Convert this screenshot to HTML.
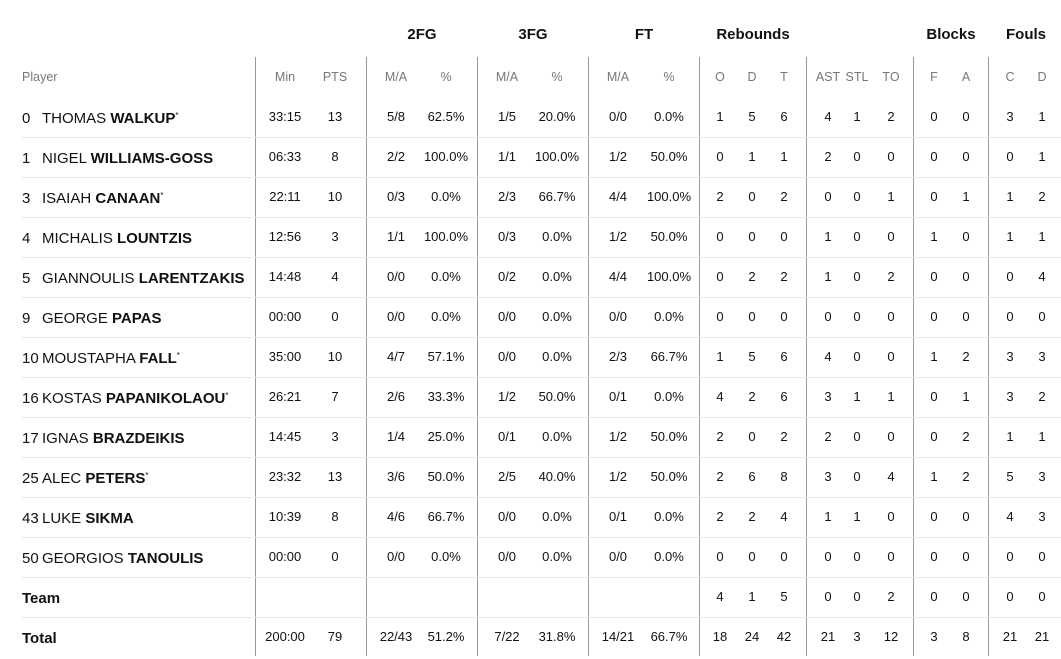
<!DOCTYPE html>
<html><head><meta charset="utf-8"><style>
body{margin:0;width:1061px;height:656px;background:#fff;position:relative;overflow:hidden;font-family:"Liberation Sans",sans-serif;color:#111}
.r{position:absolute;left:0;width:1061px;height:40px;line-height:40px;font-size:13px}
.r span{position:absolute;top:0;height:40px;line-height:40px;transform:translateX(-50%);white-space:nowrap}
.r .n{transform:none;left:22px;font-size:15px;top:2px}
.r .p{transform:none;left:42px;font-size:15px;top:2px}
.r .p i{font-style:normal;font-size:8px;position:relative;top:-5px}
.sep{position:absolute;left:22px;width:1039px;height:1px;background:#e9e9e9}
.v{position:absolute;top:57px;height:599px;width:1px;background:#999}
.g{position:absolute;top:26px;font-size:15px;font-weight:bold;transform:translateX(-50%)}
.h{color:#777;font-size:12.5px}
.h .n{top:0!important}
.a{left:285px}.b{left:335px}.c{left:396px}.d{left:446px}.e{left:507px}.f{left:557px}.g1{left:618px}.h1{left:669px}
.i{left:720px}.j{left:752px}.k{left:784px}.l{left:828px}.m{left:857px}.o{left:891px}.q{left:934px}.s{left:966px}.t{left:1010px}.u{left:1042px}
</style></head><body>
<div class="g" style="left:422px">2FG</div>
<div class="g" style="left:533px">3FG</div>
<div class="g" style="left:644px">FT</div>
<div class="g" style="left:753px">Rebounds</div>
<div class="g" style="left:951px">Blocks</div>
<div class="g" style="left:1026px">Fouls</div>
<div class="v" style="left:255px"></div><div class="v" style="left:366px"></div><div class="v" style="left:477px"></div><div class="v" style="left:588px"></div><div class="v" style="left:699px"></div><div class="v" style="left:806px"></div><div class="v" style="left:913px"></div><div class="v" style="left:988px"></div>
<div class="r h" style="top:57px"><span class="n" style="font-size:12.5px">Player</span><span class="a">Min</span><span class="b">PTS</span><span class="c">M/A</span><span class="d">%</span><span class="e">M/A</span><span class="f">%</span><span class="g1">M/A</span><span class="h1">%</span><span class="i">O</span><span class="j">D</span><span class="k">T</span><span class="l">AST</span><span class="m">STL</span><span class="o">TO</span><span class="q">F</span><span class="s">A</span><span class="t">C</span><span class="u">D</span></div>

<div class="r" style="top:97px"><span class="n">0</span><span class="p">THOMAS <b>WALKUP</b><i>*</i></span><span class="a">33:15</span><span class="b">13</span><span class="c">5/8</span><span class="d">62.5%</span><span class="e">1/5</span><span class="f">20.0%</span><span class="g1">0/0</span><span class="h1">0.0%</span><span class="i">1</span><span class="j">5</span><span class="k">6</span><span class="l">4</span><span class="m">1</span><span class="o">2</span><span class="q">0</span><span class="s">0</span><span class="t">3</span><span class="u">1</span></div>
<div class="sep" style="top:137px"></div>
<div class="r" style="top:137px"><span class="n">1</span><span class="p">NIGEL <b>WILLIAMS-GOSS</b></span><span class="a">06:33</span><span class="b">8</span><span class="c">2/2</span><span class="d">100.0%</span><span class="e">1/1</span><span class="f">100.0%</span><span class="g1">1/2</span><span class="h1">50.0%</span><span class="i">0</span><span class="j">1</span><span class="k">1</span><span class="l">2</span><span class="m">0</span><span class="o">0</span><span class="q">0</span><span class="s">0</span><span class="t">0</span><span class="u">1</span></div>
<div class="sep" style="top:177px"></div>
<div class="r" style="top:177px"><span class="n">3</span><span class="p">ISAIAH <b>CANAAN</b><i>*</i></span><span class="a">22:11</span><span class="b">10</span><span class="c">0/3</span><span class="d">0.0%</span><span class="e">2/3</span><span class="f">66.7%</span><span class="g1">4/4</span><span class="h1">100.0%</span><span class="i">2</span><span class="j">0</span><span class="k">2</span><span class="l">0</span><span class="m">0</span><span class="o">1</span><span class="q">0</span><span class="s">1</span><span class="t">1</span><span class="u">2</span></div>
<div class="sep" style="top:217px"></div>
<div class="r" style="top:217px"><span class="n">4</span><span class="p">MICHALIS <b>LOUNTZIS</b></span><span class="a">12:56</span><span class="b">3</span><span class="c">1/1</span><span class="d">100.0%</span><span class="e">0/3</span><span class="f">0.0%</span><span class="g1">1/2</span><span class="h1">50.0%</span><span class="i">0</span><span class="j">0</span><span class="k">0</span><span class="l">1</span><span class="m">0</span><span class="o">0</span><span class="q">1</span><span class="s">0</span><span class="t">1</span><span class="u">1</span></div>
<div class="sep" style="top:257px"></div>
<div class="r" style="top:257px"><span class="n">5</span><span class="p">GIANNOULIS <b>LARENTZAKIS</b></span><span class="a">14:48</span><span class="b">4</span><span class="c">0/0</span><span class="d">0.0%</span><span class="e">0/2</span><span class="f">0.0%</span><span class="g1">4/4</span><span class="h1">100.0%</span><span class="i">0</span><span class="j">2</span><span class="k">2</span><span class="l">1</span><span class="m">0</span><span class="o">2</span><span class="q">0</span><span class="s">0</span><span class="t">0</span><span class="u">4</span></div>
<div class="sep" style="top:297px"></div>
<div class="r" style="top:297px"><span class="n">9</span><span class="p">GEORGE <b>PAPAS</b></span><span class="a">00:00</span><span class="b">0</span><span class="c">0/0</span><span class="d">0.0%</span><span class="e">0/0</span><span class="f">0.0%</span><span class="g1">0/0</span><span class="h1">0.0%</span><span class="i">0</span><span class="j">0</span><span class="k">0</span><span class="l">0</span><span class="m">0</span><span class="o">0</span><span class="q">0</span><span class="s">0</span><span class="t">0</span><span class="u">0</span></div>
<div class="sep" style="top:337px"></div>
<div class="r" style="top:337px"><span class="n">10</span><span class="p">MOUSTAPHA <b>FALL</b><i>*</i></span><span class="a">35:00</span><span class="b">10</span><span class="c">4/7</span><span class="d">57.1%</span><span class="e">0/0</span><span class="f">0.0%</span><span class="g1">2/3</span><span class="h1">66.7%</span><span class="i">1</span><span class="j">5</span><span class="k">6</span><span class="l">4</span><span class="m">0</span><span class="o">0</span><span class="q">1</span><span class="s">2</span><span class="t">3</span><span class="u">3</span></div>
<div class="sep" style="top:377px"></div>
<div class="r" style="top:377px"><span class="n">16</span><span class="p">KOSTAS <b>PAPANIKOLAOU</b><i>*</i></span><span class="a">26:21</span><span class="b">7</span><span class="c">2/6</span><span class="d">33.3%</span><span class="e">1/2</span><span class="f">50.0%</span><span class="g1">0/1</span><span class="h1">0.0%</span><span class="i">4</span><span class="j">2</span><span class="k">6</span><span class="l">3</span><span class="m">1</span><span class="o">1</span><span class="q">0</span><span class="s">1</span><span class="t">3</span><span class="u">2</span></div>
<div class="sep" style="top:417px"></div>
<div class="r" style="top:417px"><span class="n">17</span><span class="p">IGNAS <b>BRAZDEIKIS</b></span><span class="a">14:45</span><span class="b">3</span><span class="c">1/4</span><span class="d">25.0%</span><span class="e">0/1</span><span class="f">0.0%</span><span class="g1">1/2</span><span class="h1">50.0%</span><span class="i">2</span><span class="j">0</span><span class="k">2</span><span class="l">2</span><span class="m">0</span><span class="o">0</span><span class="q">0</span><span class="s">2</span><span class="t">1</span><span class="u">1</span></div>
<div class="sep" style="top:457px"></div>
<div class="r" style="top:457px"><span class="n">25</span><span class="p">ALEC <b>PETERS</b><i>*</i></span><span class="a">23:32</span><span class="b">13</span><span class="c">3/6</span><span class="d">50.0%</span><span class="e">2/5</span><span class="f">40.0%</span><span class="g1">1/2</span><span class="h1">50.0%</span><span class="i">2</span><span class="j">6</span><span class="k">8</span><span class="l">3</span><span class="m">0</span><span class="o">4</span><span class="q">1</span><span class="s">2</span><span class="t">5</span><span class="u">3</span></div>
<div class="sep" style="top:497px"></div>
<div class="r" style="top:497px"><span class="n">43</span><span class="p">LUKE <b>SIKMA</b></span><span class="a">10:39</span><span class="b">8</span><span class="c">4/6</span><span class="d">66.7%</span><span class="e">0/0</span><span class="f">0.0%</span><span class="g1">0/1</span><span class="h1">0.0%</span><span class="i">2</span><span class="j">2</span><span class="k">4</span><span class="l">1</span><span class="m">1</span><span class="o">0</span><span class="q">0</span><span class="s">0</span><span class="t">4</span><span class="u">3</span></div>
<div class="sep" style="top:537px"></div>
<div class="r" style="top:537px"><span class="n">50</span><span class="p">GEORGIOS <b>TANOULIS</b></span><span class="a">00:00</span><span class="b">0</span><span class="c">0/0</span><span class="d">0.0%</span><span class="e">0/0</span><span class="f">0.0%</span><span class="g1">0/0</span><span class="h1">0.0%</span><span class="i">0</span><span class="j">0</span><span class="k">0</span><span class="l">0</span><span class="m">0</span><span class="o">0</span><span class="q">0</span><span class="s">0</span><span class="t">0</span><span class="u">0</span></div>
<div class="sep" style="top:577px"></div>
<div class="r" style="top:577px"><span class="n"><b>Team</b></span><span class="i">4</span><span class="j">1</span><span class="k">5</span><span class="l">0</span><span class="m">0</span><span class="o">2</span><span class="q">0</span><span class="s">0</span><span class="t">0</span><span class="u">0</span></div>
<div class="sep" style="top:617px"></div>
<div class="r" style="top:617px"><span class="n"><b>Total</b></span><span class="a">200:00</span><span class="b">79</span><span class="c">22/43</span><span class="d">51.2%</span><span class="e">7/22</span><span class="f">31.8%</span><span class="g1">14/21</span><span class="h1">66.7%</span><span class="i">18</span><span class="j">24</span><span class="k">42</span><span class="l">21</span><span class="m">3</span><span class="o">12</span><span class="q">3</span><span class="s">8</span><span class="t">21</span><span class="u">21</span></div>
</body></html>
